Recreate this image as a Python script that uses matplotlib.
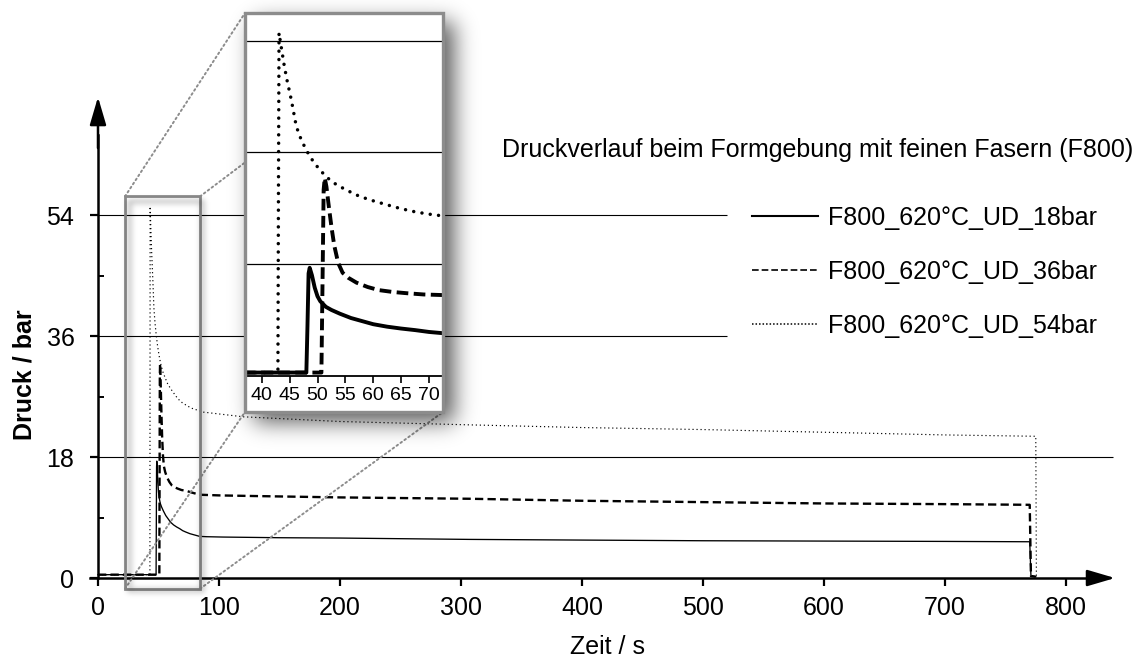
import numpy as np
import matplotlib
matplotlib.use("Agg")
import matplotlib.pyplot as plt
from matplotlib.patches import Rectangle, ConnectionPatch

plt.rcParams["font.family"] = ["Liberation Sans", "DejaVu Sans"]

# ---- pressure curves: time in s, pressure in bar ----
t_18 = [0, 48.0, 48.2, 48.4, 48.6, 49.0, 49.5, 50.0, 50.5, 51.5, 52.5, 54.0, 56.0,
        58.0, 60.0, 62.5, 65.0, 67.5, 70.0, 72.5, 76.0, 80.0, 84.0, 90.0, 103.0,
        150.0, 200.0, 307.0, 400.0, 500.0, 600.0, 700.0, 770.0, 771.0, 775.0]
p_18 = [0.5, 0.5, 8.0, 16.5, 17.4, 16.2, 14.2, 12.8, 12.0, 11.1, 10.6, 10.0, 9.3,
        8.8, 8.3, 7.9, 7.6, 7.35, 7.05, 6.85, 6.6, 6.4, 6.2, 6.15, 6.1,
        6.0, 5.95, 5.75, 5.65, 5.55, 5.5, 5.45, 5.4, 0.3, 0.2]

t_36 = [0, 50.7, 50.9, 51.1, 51.3, 51.6, 52.0, 52.5, 53.0, 53.7, 54.5, 55.5, 57.0,
        59.0, 61.0, 63.5, 66.0, 69.0, 72.5, 78.0, 84.0, 100.0, 131.0, 200.0, 307.0,
        400.0, 500.0, 600.0, 700.0, 770.0, 771.0, 775.0]
p_36 = [0.5, 0.5, 15.0, 30.0, 31.9, 30.5, 27.5, 24.0, 21.0, 18.2, 16.6, 15.8, 15.0,
        14.3, 13.8, 13.5, 13.3, 13.1, 13.0, 12.7, 12.4, 12.3, 12.2, 12.0, 11.8,
        11.5, 11.3, 11.1, 11.0, 10.9, 0.3, 0.2]

t_54 = [0, 42.9, 43.0, 43.1, 43.5, 44.0, 44.5, 45.3, 46.2, 47.1, 48.1, 49.2, 50.4,
        51.8, 53.4, 55.5, 57.6, 60.0, 62.3, 64.7, 67.1, 69.6, 72.2, 77.0, 87.0,
        120.0, 200.0, 307.0, 400.0, 500.0, 600.0, 700.0, 775.0, 775.5]
p_54 = [0.5, 0.5, 30.0, 55.3, 53.0, 50.2, 47.8, 44.5, 40.2, 38.0, 36.2, 34.6, 33.2,
        31.9, 30.8, 29.8, 28.9, 28.2, 27.6, 27.0, 26.5, 26.1, 25.8, 25.3, 24.7,
        24.0, 23.3, 22.8, 22.4, 22.1, 21.7, 21.3, 21.1, 0.3]

series_labels = ["F800_620°C_UD_18bar", "F800_620°C_UD_36bar", "F800_620°C_UD_54bar"]
title_text = "Druckverlauf beim Formgebung mit feinen Fasern (F800)"
x_ticks = [0, 100, 200, 300, 400, 500, 600, 700, 800]
y_ticks = [0, 18, 36, 54]
y_minor = [9, 27, 45]
zoom_ticks = [40, 45, 50, 55, 60, 65, 70]
zoom_window = (22.3, 84.3, -1.6, 56.8)   # t0, t1, p0, p1 of the magnified region

W, H = 1142, 659
fig = plt.figure(figsize=(W / 100, H / 100), dpi=100)


def px_rect(x0, y0, x1, y1):
    """Pixel box (origin top-left) -> figure-fraction rect."""
    return [x0 / W, 1 - y1 / H, (x1 - x0) / W, (y1 - y0) / H]


GRAY = "#8c8c8c"
FS = 18

# ---------------- main axes ----------------
ax = fig.add_axes(px_rect(88, 95, 1120, 600))
ax.set_xlim(-8.26, 844.6)
ax.set_ylim(-3.27, 71.9)
ax.patch.set_alpha(0)
for s in ("top", "right"):
    ax.spines[s].set_visible(False)
ax.spines["bottom"].set_position(("data", 0))
ax.spines["left"].set_position(("data", 0))
ax.spines["bottom"].set_bounds(-6.6, 832)
ax.spines["left"].set_bounds(0, 66)
ax.spines["bottom"].set_linewidth(1.8)
ax.spines["left"].set_linewidth(1.8)

# axis arrow heads
ax.annotate("", xy=(840.5, 0), xytext=(825, 0),
            arrowprops=dict(arrowstyle="-|>,head_length=1.7,head_width=0.5",
                            color="black", lw=1.8, shrinkA=0, shrinkB=0))
ax.annotate("", xy=(0, 71.6), xytext=(0, 64),
            arrowprops=dict(arrowstyle="-|>,head_length=1.7,head_width=0.5",
                            color="black", lw=1.8, shrinkA=0, shrinkB=0))

ax.set_xticks(x_ticks)
ax.set_yticks(y_ticks)
ax.set_yticks(y_minor, minor=True)
ax.tick_params(axis="x", direction="out", length=6, width=1.6, labelsize=FS, pad=7)
ax.tick_params(axis="y", which="major", direction="out", length=6, width=1.6,
               labelsize=FS, pad=11)
ax.tick_params(axis="y", which="minor", direction="in", length=4, width=1.4)

# horizontal reference lines
ax.hlines([18], 0, 839, color="black", lw=0.8, zorder=1)
ax.hlines([36, 54], 0, 520, color="black", lw=0.8, zorder=1)

l18, = ax.plot(t_18, p_18, color="black", lw=0.95, label=series_labels[0], zorder=3)
l36, = ax.plot(t_36, p_36, color="black", lw=1.7, dashes=(3.5, 1.8),
               label=series_labels[1], zorder=3)
l54, = ax.plot(t_54, p_54, color="black", lw=0.85, linestyle=(0, (1, 2.4)),
               label=series_labels[2], zorder=3)

ax.set_xlabel("Zeit / s", fontsize=FS, va="center")
ax.xaxis.set_label_coords((607 - 88) / 1032, -(647 - 600) / 505)
ax.set_ylabel("Druck / bar", fontsize=FS, fontweight="bold", va="center")
ax.yaxis.set_label_coords((25 - 88) / 1032, (600 - 375) / 505)

# marker of the magnified region
t0, t1, p0, p1 = zoom_window
ax.add_patch(Rectangle((t0, p0), t1 - t0, p1 - p0, fill=False, ec=GRAY, lw=2.0,
                       clip_on=False, zorder=4))

leg = ax.legend(loc="center left", bbox_to_anchor=(752 / W, 1 - 272 / H),
                bbox_transform=fig.transFigure, frameon=False, fontsize=FS,
                handlelength=2.64, handletextpad=0.4, labelspacing=1.2,
                borderpad=0, borderaxespad=0)
lh = leg.get_lines()
lh[0].set_linewidth(1.5)
lh[1].set_linewidth(1.2)
lh[1].set_dashes((4, 1.8))
lh[2].set_linewidth(1.1)
lh[2].set_linestyle((0, (1, 1.3)))

fig.text(1133 / W, 1 - 150 / H, title_text, fontsize=FS, ha="right", va="center")

# ---------------- magnified inset ----------------
IX0, IY0, IX1, IY1 = 245, 13, 443, 412
ins = fig.add_axes(px_rect(IX0, IY0, IX1, IY1), zorder=5)
ins.set_xlim(37.0, 72.5)
ins.set_ylim(-5.86, 58.5)
for s in ("top", "left", "right"):
    ins.spines[s].set_visible(False)
ins.spines["bottom"].set_position(("data", 0))
ins.spines["bottom"].set_linewidth(1.3)
ins.set_xticks(zoom_ticks)
ins.set_yticks([])
ins.tick_params(axis="x", direction="out", length=5, width=1.2, labelsize=14, pad=3)
ins.hlines([18, 36, 54], 37.0, 72.5, color="black", lw=0.9, zorder=1)
ins.plot(t_18, p_18, color="black", lw=2.8, zorder=3)
ins.plot(t_36, p_36, color="black", lw=2.8, dashes=(3.0, 1.4), zorder=3)
ins.plot(t_54, p_54, color="black", lw=2.5, linestyle=(0, (0.01, 2.4)),
         dash_capstyle="round", zorder=3)
ins.add_patch(Rectangle((0, 0), 1, 1, transform=ins.transAxes, fill=False, ec=GRAY,
                        lw=2.4, clip_on=False, zorder=10))

# dotted guides from the marked region to the inset corners
for (xa, ya), (xb, yb) in [((t0, p1), (0, 1)), ((t1, p1), (1, 1)),
                           ((t0, p0), (0, 0)), ((t1, p0), (1, 0))]:
    cp = ConnectionPatch(xyA=(xa, ya), coordsA=ax.transData,
                         xyB=(xb, yb), coordsB=ins.transAxes,
                         color=GRAY, lw=1.4, linestyle=(0, (0.9, 1.6)), zorder=2)
    fig.add_artist(cp)

# ---------------- soft drop shadows ----------------
PAD = 80
yy, xx = np.mgrid[0:H + 2 * PAD, 0:W + 2 * PAD]


def box(x0, y0, x1, y1):
    return ((xx >= x0 + PAD) & (xx <= x1 + PAD) &
            (yy >= y0 + PAD) & (yy <= y1 + PAD)).astype(float)


def blur(a, s):
    fy = np.fft.fftfreq(a.shape[0])[:, None]
    fx = np.fft.fftfreq(a.shape[1])[None, :]
    g = np.exp(-2 * (np.pi * s) ** 2 * (fx ** 2 + fy ** 2))
    return np.real(np.fft.ifft2(np.fft.fft2(a) * g))


alpha = 0.65 * blur(box(IX0 + 9, IY0 + 9, IX1 + 10, IY1 + 9), 11)
# small marker frame: shadow of its outline only
mx0, my0 = ax.transData.transform((t0, p1))
mx1, my1 = ax.transData.transform((t1, p0))
my0, my1 = H - my0, H - my1
ring = box(mx0 + 3, my0 + 3, mx1 + 3, my1 + 3) - box(mx0 + 6, my0 + 6, mx1, my1)
alpha += 0.35 * blur(np.clip(ring, 0, 1), 3)
alpha = np.clip(alpha, 0, 1)[PAD:PAD + H, PAD:PAD + W]
rgba = np.zeros((H, W, 4))
rgba[..., 3] = alpha

sh = fig.add_axes([0, 0, 1, 1], zorder=3)
sh.imshow(rgba, extent=(0, W, H, 0), aspect="auto", interpolation="bilinear")
sh.set_xlim(0, W)
sh.set_ylim(H, 0)
sh.axis("off")

fig.savefig("out.png", dpi=100)
